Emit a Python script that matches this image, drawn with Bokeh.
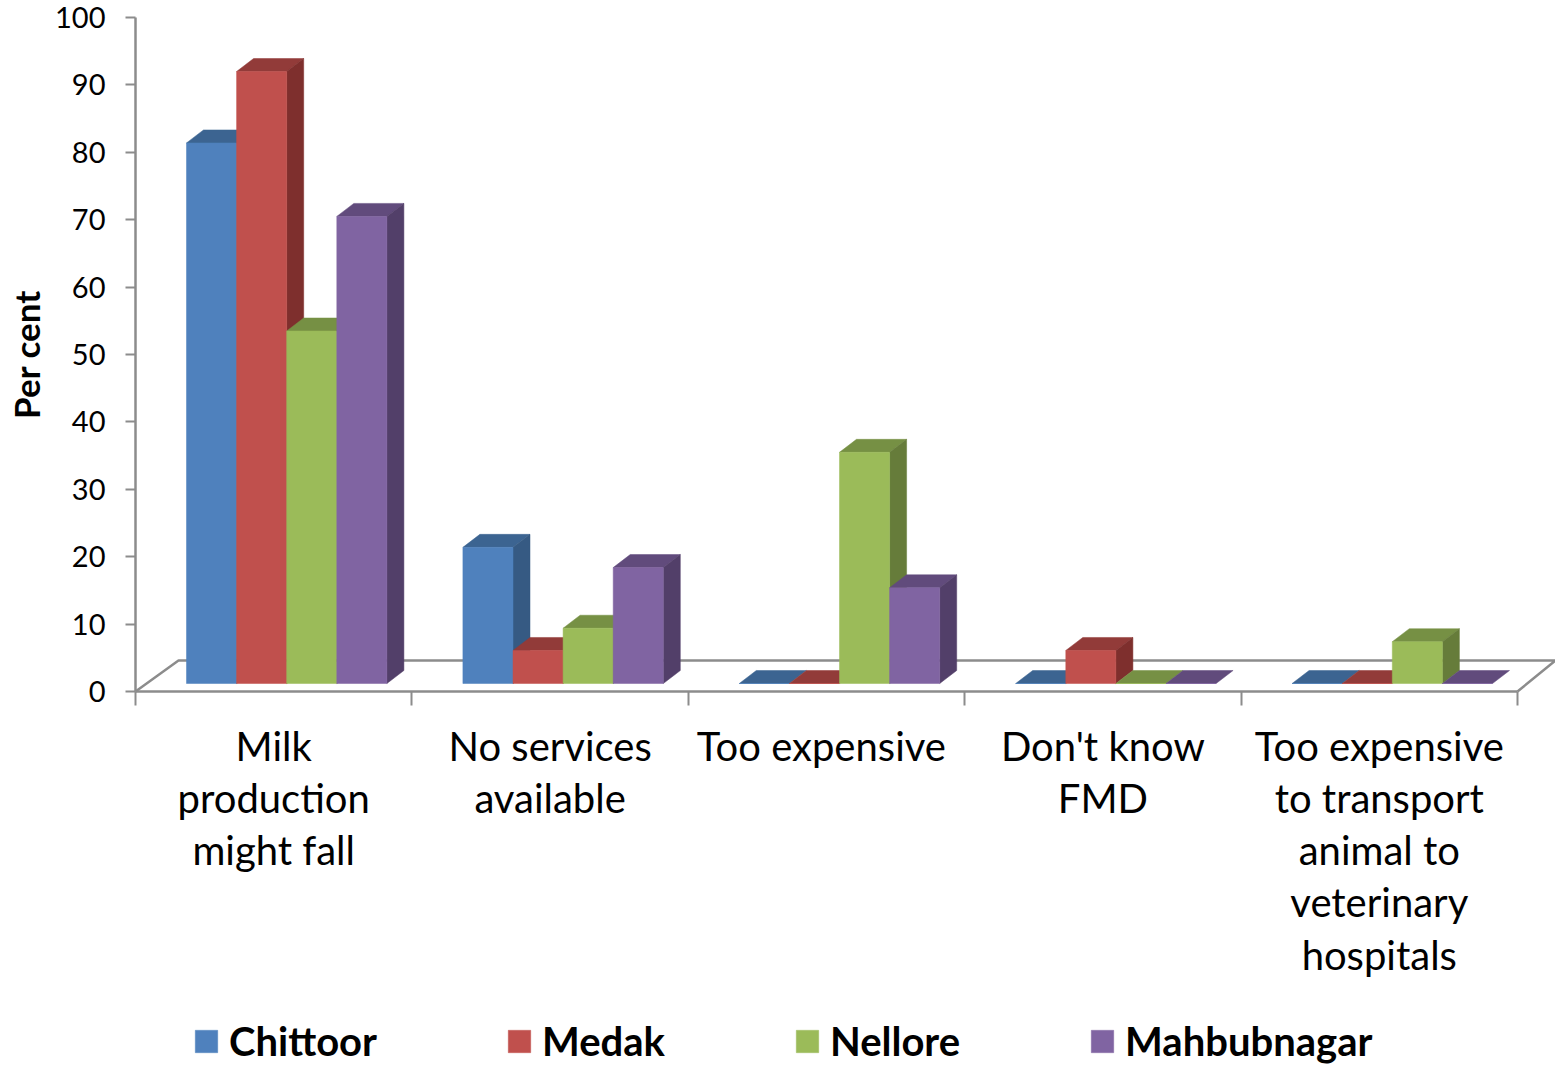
from bokeh.embed import file_html
from bokeh.models import FixedTicker, Legend, LegendItem, LinearAxis, Range1d
from bokeh.plotting import figure
from bokeh.resources import INLINE

# Survey responses, per cent of respondents in each district
categories = [
    "Milk\nproduction\nmight fall",
    "No services\navailable",
    "Too expensive\u00a0",
    "Don't know\nFMD",
    "Too expensive\nto transport\nanimal to\nveterinary\nhospitals",
]
chittoor = [80.2, 20.2, 0, 0, 0]
medak = [90.8, 4.9, 0, 4.9, 0]
nellore = [52.3, 8.2, 34.3, 0, 6.2]
mahbubnagar = [69.3, 17.2, 14.2, 0, 0]

series = [
    ("Chittoor", chittoor, "#4f81bd", "#3c6491", "#365a83"),
    ("Medak", medak, "#c0504d", "#923b39", "#7e2f2d"),
    ("Nellore", nellore, "#9bbb59", "#769044", "#667c3a"),
    ("Mahbubnagar", mahbubnagar, "#8064a2", "#614b7c", "#523f69"),
]

FONT = "Lato"
AXIS_GREY = "#8c8c8c"

# One category slot is 276.4 px wide and one per-cent step is 6.74 px tall
PX_X = 1 / 276.4
PX_Y = 1 / 6.74
BAR_W = 50.1 * PX_X
FIRST_BAR = 51 * PX_X
BASE = 8 * PX_Y
DX = 17 * PX_X
DY = 13 * PX_Y

# The frame fills the page; axes are pinned at the plot's origin inside it
p = figure(
    width=1555,
    height=1065,
    x_range=Range1d(-135 * PX_X, 1420 * PX_X),
    y_range=Range1d(-374 * PX_Y, 691 * PX_Y),
    output_backend="svg",
    toolbar_location=None,
    min_border=0,
    x_axis_type=None,
    y_axis_type=None,
    background_fill_color="white",
    border_fill_color="white",
)
p.outline_line_color = None
p.grid.visible = False

# Chart floor, an open parallelogram behind the bars
floor_x = [0, 43 * PX_X, 5 + 38 * PX_X, 5]
floor_y = [0, 31 * PX_Y, 31 * PX_Y, 0]
p.patch(floor_x, floor_y, fill_color="white", line_color=None)
p.line(floor_x, floor_y, line_color=AXIS_GREY, line_width=2.5)

legend_items = []
for idx, (name, values, front, top, side) in enumerate(series):
    left = [i + FIRST_BAR + idx * BAR_W for i in range(len(values))]
    right = [x + BAR_W for x in left]
    high = [v + BASE for v in values]

    p.patches(
        [[l, l + DX, r + DX, r] for l, r in zip(left, right)],
        [[h, h + DY, h + DY, h] for h in high],
        fill_color=top,
        line_color=top,
        line_width=0.5,
    )
    p.patches(
        [[r, r + DX, r + DX, r] for r, v in zip(right, values) if v > 0],
        [[BASE, BASE + DY, h + DY, h] for h, v in zip(high, values) if v > 0],
        fill_color=side,
        line_color=side,
        line_width=0.5,
    )
    bars = p.quad(
        left=left,
        right=right,
        bottom=BASE,
        top=high,
        fill_color=front,
        line_color=front,
        line_width=0.5,
    )
    legend_items.append(LegendItem(label=name, renderers=[bars]))

# Value axis
y_axis = LinearAxis(ticker=FixedTicker(ticks=list(range(0, 101, 10))), fixed_location=0)
y_axis.bounds = (0, 100)
y_axis.axis_line_color = AXIS_GREY
y_axis.axis_line_width = 2.5
y_axis.major_tick_line_color = AXIS_GREY
y_axis.major_tick_line_width = 2
y_axis.major_tick_in = 0
y_axis.major_tick_out = 10
y_axis.minor_tick_line_color = None
y_axis.major_label_text_font = FONT
y_axis.major_label_text_font_size = "29px"
y_axis.major_label_text_color = "black"
y_axis.major_label_standoff = 20
y_axis.axis_label = "Per cent"
y_axis.axis_label_text_font = FONT
y_axis.axis_label_text_font_style = "bold"
y_axis.axis_label_text_font_size = "35px"
y_axis.axis_label_text_color = "black"
y_axis.axis_label_standoff = 5
p.add_layout(y_axis, "left")

# Category axis: names centred in each slot, separators as minor ticks
centres = [i + 0.5 for i in range(len(categories))]
separators = list(range(len(categories) + 1))
x_axis = LinearAxis(ticker=FixedTicker(ticks=centres, minor_ticks=separators), fixed_location=0)
x_axis.bounds = (0, len(categories))
x_axis.major_label_overrides = dict(zip(centres, categories))
x_axis.axis_line_color = AXIS_GREY
x_axis.axis_line_width = 2.5
x_axis.major_tick_line_color = None
x_axis.major_tick_in = 0
x_axis.major_tick_out = 0
x_axis.minor_tick_line_color = AXIS_GREY
x_axis.minor_tick_line_width = 2
x_axis.minor_tick_in = 0
x_axis.minor_tick_out = 14
x_axis.major_label_text_font = FONT
x_axis.major_label_text_font_size = "40px"
x_axis.major_label_text_color = "black"
x_axis.major_label_text_line_height = 1.09
x_axis.major_label_standoff = 16
p.add_layout(x_axis, "below")

legend = Legend(
    items=legend_items,
    orientation="horizontal",
    location=(192, 0),
    spacing=128,
    glyph_width=28,
    glyph_height=28,
    label_standoff=9,
    padding=0,
    margin=0,
    background_fill_alpha=0,
    border_line_color=None,
    label_text_font=FONT,
    label_text_font_style="bold",
    label_text_font_size="40px",
    label_text_color="black",
)
p.add_layout(legend, "center")

open("out.html", "w").write(file_html(p, INLINE))
